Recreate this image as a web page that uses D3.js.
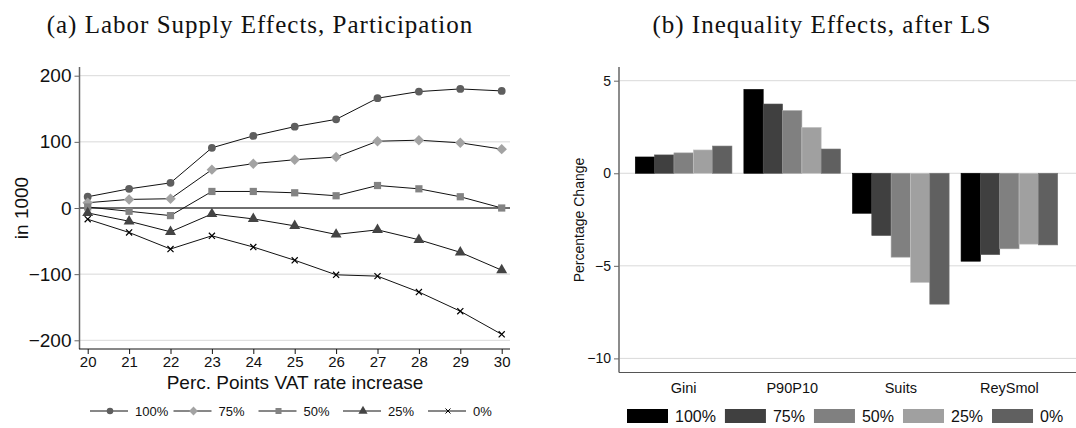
<!DOCTYPE html>
<html>
<head>
<meta charset="utf-8">
<script src="https://cdn.jsdelivr.net/npm/d3@7"></script>
<style>
  body { margin: 0; background: #fff; }
  svg { display: block; }
  text { font-family: "Liberation Sans", Arial, sans-serif; fill: #111; }
  .title { font-family: "Liberation Serif", "DejaVu Serif", serif; font-size: 25px; letter-spacing: 1px; }
</style>
</head>
<body>
<div id="chart"></div>
<script>
// panel (a): labor supply effects, in 1000
var years = [20, 21, 22, 23, 24, 25, 26, 27, 28, 29, 30];
var ls100 = [17, 29, 38, 91, 109, 123, 134, 166, 176, 180, 177];
var ls75 = [8, 13, 14, 58, 67, 73, 77, 101, 102.5, 98.5, 89];
var ls50 = [1.5, -5, -11.5, 25, 25, 23, 18.5, 34, 29, 17, 0];
var ls25 = [-7.5, -20, -36, -9, -16.5, -27, -40, -33, -48, -67, -94];
var ls0 = [-17, -37, -62, -42, -59, -79, -101, -103, -127, -156, -191];
var lineLabels = ["100%", "75%", "50%", "25%", "0%"];
var yTicksA = [-200, -100, 0, 100, 200];

// panel (b): inequality effects, percentage change
var measures = ["Gini", "P90P10", "Suits", "ReySmol"];
var barLabels = ["100%", "75%", "50%", "25%", "0%"];
var bar100 = [0.88, 4.53, -2.16, -4.75];
var bar75 = [0.99, 3.74, -3.36, -4.39];
var bar50 = [1.10, 3.38, -4.53, -4.08];
var bar25 = [1.26, 2.48, -5.9, -3.83];
var bar0 = [1.47, 1.31, -7.07, -3.87];
var yTicksB = [-10, -5, 0, 5];

var W = 1076, H = 428;
var svg = d3.select("#chart").append("svg")
    .attr("width", W).attr("height", H);

// ---------- panel (a) ----------
var seriesA = [ls100, ls75, ls50, ls25, ls0];
var markColor = ["#5e5e5e", "#a3a3a3", "#838383", "#444444", "#000000"];
var markShape = [d3.symbolCircle, d3.symbolDiamond2, d3.symbolSquare, d3.symbolTriangle, d3.symbolX];
var markSize = [48, 70, 52, 52, 26];

var xa = d3.scaleLinear().domain([20, 30]).range([87.7, 501.7]);
var ya = d3.scaleLinear().domain([-200, 200]).range([340.3, 75.7]);

svg.append("text").attr("class", "title")
    .attr("x", 260).attr("y", 33).attr("text-anchor", "middle")
    .text("(a) Labor Supply Effects, Participation");

var ga = svg.append("g");

// grid
ga.selectAll(".grid").data(yTicksA).enter().append("line")
    .attr("x1", 80).attr("x2", 510)
    .attr("y1", d => ya(d)).attr("y2", d => ya(d))
    .attr("stroke", "#d9d9d9").attr("stroke-width", 1);

// zero line
ga.append("line")
    .attr("x1", 80).attr("x2", 510)
    .attr("y1", ya(0)).attr("y2", ya(0))
    .attr("stroke", "#444").attr("stroke-width", 1.5);

// axes
var axA = ga.append("g").attr("transform", "translate(79.5,0)")
    .call(d3.axisLeft(ya).tickValues(yTicksA).tickSize(5).tickPadding(3)
      .tickFormat(d => d < 0 ? "\u2212" + Math.abs(d) : d));
axA.select(".domain").attr("d", "M0,67V349").attr("stroke", "#666").attr("stroke-width", 1.5);
axA.selectAll(".tick line").attr("stroke", "#666");
axA.selectAll(".tick text").style("font-size", "19px").attr("fill", "#111");

var axAx = ga.append("g").attr("transform", "translate(0,349)")
    .call(d3.axisBottom(xa).tickValues(years).tickSize(5).tickPadding(2));
axAx.select(".domain").attr("d", "M79,0H510").attr("stroke", "#111").attr("stroke-width", 1);
axAx.selectAll(".tick line").attr("stroke", "#111");
axAx.selectAll(".tick text").style("font-size", "15px").attr("fill", "#111");

ga.append("text").attr("x", 295).attr("y", 389).attr("text-anchor", "middle")
    .style("font-size", "19px").text("Perc. Points VAT rate increase");
ga.append("text").attr("transform", "translate(28,208) rotate(-90)")
    .attr("text-anchor", "middle").style("font-size", "19px").text("in 1000");

var line = d3.line().x((d, i) => xa(years[i])).y(d => ya(d));
seriesA.forEach(function(s, k) {
  ga.append("path").datum(s).attr("d", line)
      .attr("fill", "none").attr("stroke", "#111").attr("stroke-width", 1);
  ga.selectAll(".m" + k).data(s).enter().append("path")
      .attr("transform", (d, i) => "translate(" + xa(years[i]) + "," + ya(d) + ")")
      .attr("d", d3.symbol().type(markShape[k]).size(markSize[k]))
      .attr("fill", k == 4 ? "none" : markColor[k])
      .attr("stroke", k == 4 ? "#000" : "none")
      .attr("stroke-width", 1.2);
});

// legend (a)
var legA = ga.append("g").attr("transform", "translate(0,411)");
var legAx = [90, 173.5, 258.5, 343, 428];
lineLabels.forEach(function(lab, k) {
  var g = legA.append("g").attr("transform", "translate(" + legAx[k] + ",0)");
  g.append("line").attr("x1", 0).attr("x2", 38).attr("stroke", "#111").attr("stroke-width", 1);
  g.append("path").attr("transform", "translate(20,0)")
      .attr("d", d3.symbol().type(markShape[k]).size(markSize[k] * 0.7))
      .attr("fill", k == 4 ? "none" : markColor[k])
      .attr("stroke", k == 4 ? "#000" : "none").attr("stroke-width", 1);
  g.append("text").attr("x", 45).attr("y", 5).style("font-size", "13px").text(lab);
});

// ---------- panel (b) ----------
var seriesB = [bar100, bar75, bar50, bar25, bar0];
var barColor = ["#000000", "#404040", "#808080", "#a0a0a0", "#606060"];

var xb = d3.scaleBand().domain(measures).range([619, 1074]).paddingInner(0.11).paddingOuter(0.15);
var xs = d3.scaleBand().domain(barLabels).range([0, xb.bandwidth()]);
var yb = d3.scaleLinear().domain([-10, 5]).range([358.4, 80.7]);

svg.append("text").attr("class", "title")
    .attr("x", 822).attr("y", 33).attr("text-anchor", "middle")
    .text("(b) Inequality Effects, after LS");

var gb = svg.append("g");

gb.selectAll(".grid").data(yTicksB).enter().append("line")
    .attr("x1", 620).attr("x2", 1076)
    .attr("y1", d => yb(d)).attr("y2", d => yb(d))
    .attr("stroke", "#d9d9d9").attr("stroke-width", 1);

var grp = gb.selectAll(".grp").data(measures).enter().append("g")
    .attr("transform", d => "translate(" + xb(d) + ",0)");
grp.selectAll("rect").data((m, j) => seriesB.map((s, k) => ({k: k, v: s[j]})))
  .enter().append("rect")
    .attr("x", d => xs(barLabels[d.k]))
    .attr("width", xs.bandwidth())
    .attr("y", d => yb(Math.max(0, d.v)))
    .attr("height", d => Math.abs(yb(d.v) - yb(0)))
    .attr("fill", d => barColor[d.k])
    .attr("stroke", d => d3.color(barColor[d.k]).brighter(0.6))
    .attr("stroke-width", 0.6);

var axB = gb.append("g").attr("transform", "translate(619,0)")
    .call(d3.axisLeft(yb).tickValues(yTicksB).tickSize(5).tickPadding(3)
      .tickFormat(d => d < 0 ? "\u2212" + Math.abs(d) : d));
axB.select(".domain").attr("d", "M0,67V372.5").attr("stroke", "#666").attr("stroke-width", 1.5);
axB.selectAll(".tick line").attr("stroke", "#666");
axB.selectAll(".tick text").style("font-size", "14px").attr("fill", "#111");

var axBx = gb.append("g").attr("transform", "translate(0,372.5)")
    .call(d3.axisBottom(xb).tickSize(0).tickPadding(10));
axBx.select(".domain").attr("d", "M619,0H1076").attr("stroke", "#555").attr("stroke-width", 1);
axBx.selectAll(".tick text").style("font-size", "14.5px").attr("fill", "#111");

gb.append("text").attr("transform", "translate(584,220) rotate(-90)")
    .attr("text-anchor", "middle").style("font-size", "14px").text("Percentage Change");

// legend (b)
var legB = gb.append("g").attr("transform", "translate(627,409)");
var cx = 0;
barLabels.forEach(function(lab, k) {
  var g = legB.append("g").attr("transform", "translate(" + cx + ",0)");
  g.append("rect").attr("width", 41).attr("height", 14).attr("fill", barColor[k]);
  var t = g.append("text").attr("x", 48).attr("y", 13).style("font-size", "16px").text(lab);
  cx += 48 + t.node().getComputedTextLength() + 9;
});
</script>
</body>
</html>
